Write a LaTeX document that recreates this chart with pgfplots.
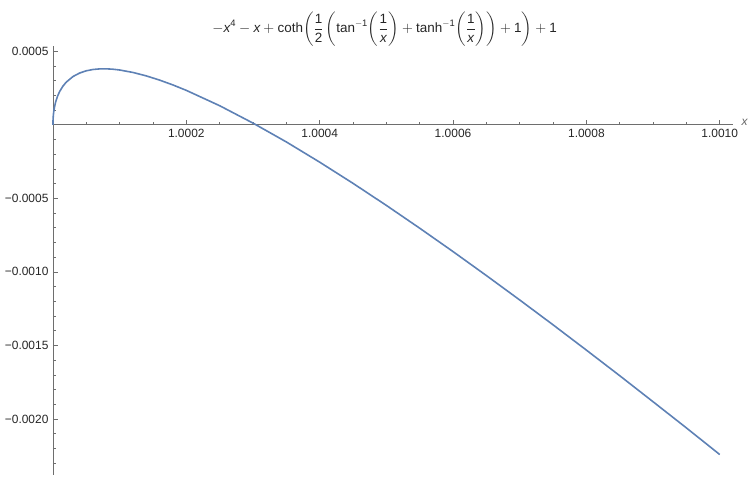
\documentclass[border=0pt]{standalone}
\usepackage{amsmath}
\usepackage{fontspec}
\setmainfont{Liberation Sans}
\usepackage{pgfplots}
\pgfplotsset{compat=1.18}
\definecolor{mmablue}{RGB}{94,129,181}
\definecolor{axgray}{RGB}{110,110,110}
\begin{document}
\begin{tikzpicture}
\begin{axis}[
  scale only axis,
  width=680bp, height=429bp,
  axis lines=middle,
  axis line style={-, axgray, line width=0.6bp},
  xmin=0, xmax=10.195,
  ymin=-23.80, ymax=5.36,
  clip=false,
  xtick={2,4,6,8,10},
  xticklabels={1.0002,1.0004,1.0006,1.0008,1.0010},
  minor xtick={0.5,1,1.5,2.5,3,3.5,4.5,5,5.5,6.5,7,7.5,8.5,9,9.5,10.5},
  ytick={-20,-15,-10,-5,5},
  yticklabels={−0.0020,−0.0015,−0.0010,−0.0005,0.0005},
  minor ytick={-23,-22,-21,-19,-18,-17,-16,-14,-13,-12,-11,-9,-8,-7,-6,-4,-3,-2,-1,1,2,3,4},
  tick align=inside,
  major tick length=5bp,
  minor tick length=3bp,
  tick style={axgray, line width=0.5bp},
  ticklabel style={font=\fontsize{12}{14}\selectfont, text=black!85},
  xticklabel style={yshift=-1bp},
  yticklabel style={xshift=-1bp},
]
\addplot[mmablue, line width=1.6bp] coordinates {
(0,0) (0.0001,0.087) (0.0003,0.151) (0.001,0.271) (0.002,0.380) (0.005,0.592)
(0.01,0.823) (0.02,1.134) (0.04,1.545) (0.07,1.959) (0.1,2.260) (0.15,2.630)
(0.2,2.903) (0.3,3.280) (0.4,3.519) (0.5,3.671) (0.6,3.760) (0.7,3.801)
(0.8,3.805) (0.9,3.779) (1.0,3.726) (1.2,3.559) (1.4,3.325) (1.6,3.038)
(1.8,2.708) (2.0,2.341) (2.5,1.298) (3.0,0.115) (3.5,-1.165) (4.0,-2.54)
(4.5,-3.98) (5.0,-5.48) (5.5,-7.03) (6.0,-8.62) (6.5,-10.25) (7.0,-11.91)
(7.5,-13.60) (8.0,-15.32) (8.5,-17.06) (9.0,-18.83) (9.5,-20.61) (10.0,-22.42)
};
\path (rel axis cs:-0.0779,-0.00466) rectangle (rel axis cs:1.0265,1.1072);
\node[font=\fontsize{13.5}{16}\selectfont, text=black!85, inner sep=0pt] at (rel axis cs:0.488,1.039)
  {$\displaystyle -\textit{x}^{\text{4}}-\textit{x}+\text{coth}\biggl(\frac{\text{1}}{\text{2}}\,\biggl(\text{tan}^{-\text{1}}\biggl(\frac{\text{1}}{\textit{x}}\biggr)+\text{tanh}^{-\text{1}}\biggl(\frac{\text{1}}{\textit{x}}\biggr)\biggr)+\text{1}\biggr)+\text{1}$};
\node[font=\fontsize{12}{14}\selectfont\itshape, text=black!60] at (rel axis cs:1.0176,0.822) {x};
\end{axis}
\end{tikzpicture}
\end{document}
